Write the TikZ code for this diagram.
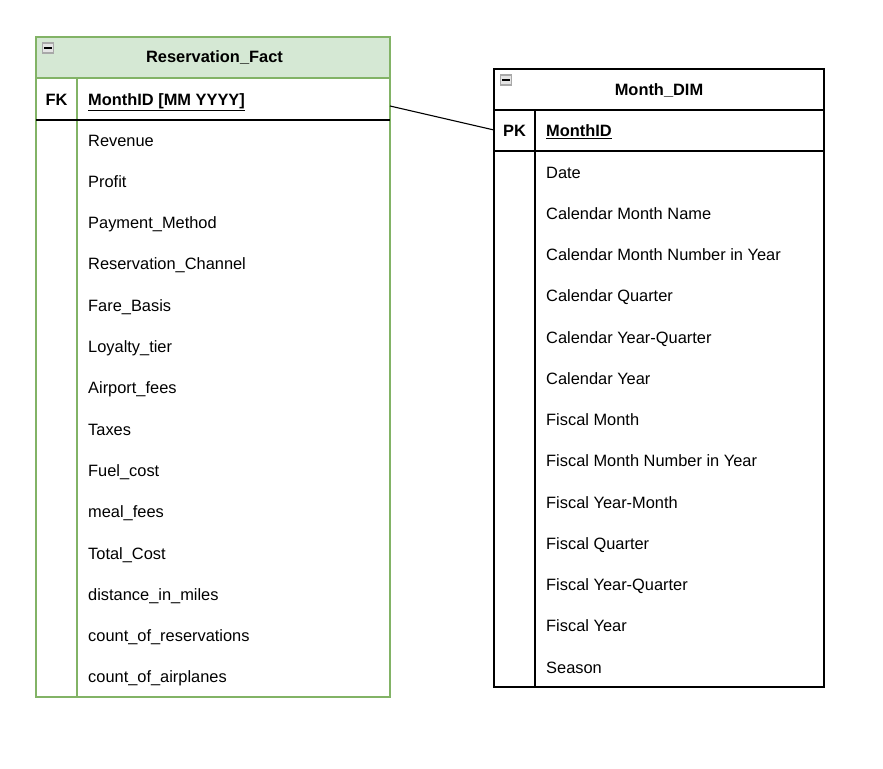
\documentclass[tikz,border=0pt]{standalone}
\usepackage{fontspec}
\setmainfont{Liberation Sans}
\definecolor{gstroke}{HTML}{82B366}
\definecolor{gfill}{HTML}{D5E8D4}
\definecolor{icon}{HTML}{A8A8A8}
\definecolor{iconin}{HTML}{E4E4E4}
\begin{document}
\begin{tikzpicture}[x=1pt,y=-1pt,
  fld/.style={anchor=base west,inner sep=0pt,font=\fontsize{16.4}{19}\selectfont},
  key/.style={anchor=base,inner sep=0pt,font=\bfseries\fontsize{16.4}{19}\selectfont},
  ttl/.style={anchor=base,inner sep=0pt,font=\bfseries\fontsize{16.4}{19}\selectfont},
  tbox/.style={draw,line width=1.2pt},
  mini/.style={draw=icon,fill=iconin,line width=1.2pt,minimum width=11pt,minimum height=10pt,inner sep=0pt},
  link/.style={draw,line width=1.1pt}]
\useasboundingbox (0,0) rectangle (883,768);
% ---------- Reservation_Fact ----------
\fill[gfill] (36,37) rectangle (390,78);
\draw[tbox,draw=gstroke] (36,37) rectangle (390,697);
\draw[tbox,draw=gstroke] (36,78) -- (390,78);
\draw[tbox,draw=gstroke] (77,78) -- (77,697);
\draw[tbox] (36,120) -- (390,120);
\node[mini] (ficon) at (48,48) {};
\draw[black,line width=1.3pt] (44,48) -- (52,48);
\node[ttl] (ftitle) at (214.5,63) {Reservation\_Fact};
\node[key] (fk) at (56.5,105) {FK};
\node[fld,font=\bfseries\fontsize{16.4}{19}\selectfont] (fmid) at (88,105) {\underline{MonthID [MM YYYY]}};
\foreach \t [count=\i from 0] in {Revenue,Profit,Payment\_Method,Reservation\_Channel,Fare\_Basis,Loyalty\_tier,Airport\_fees,Taxes,Fuel\_cost,meal\_fees,Total\_Cost,distance\_in\_miles,count\_of\_reservations,count\_of\_airplanes}
  \node[fld] (f\i) at (88,{146+\i*41.3}) {\t};
\coordinate (fside) at (390,106);
% ---------- Month_DIM ----------
\draw[tbox] (494,69) rectangle (824,687);
\draw[tbox] (494,110) -- (824,110);
\draw[tbox] (494,151) -- (824,151);
\draw[tbox] (535,110) -- (535,687);
\node[mini] (micon) at (506,80) {};
\draw[black,line width=1.3pt] (502,80) -- (510,80);
\node[ttl] (mtitle) at (659,95) {Month\_DIM};
\node[key] (pk) at (514.5,136.5) {PK};
\node[fld,font=\bfseries\fontsize{16.4}{19}\selectfont] (mid) at (546,136.5) {\underline{MonthID}};
\foreach \t [count=\i from 0] in {Date,Calendar Month Name,Calendar Month Number in Year,Calendar Quarter,Calendar Year-Quarter,Calendar Year,Fiscal Month,Fiscal Month Number in Year,Fiscal Year-Month,Fiscal Quarter,Fiscal Year-Quarter,Fiscal Year,Season}
  \node[fld] (m\i) at (546,{178+\i*41.25}) {\t};
\coordinate (mside) at (494,130);
% ---------- connector ----------
\draw[link] (fside) -- (mside);
\end{tikzpicture}
\end{document}
